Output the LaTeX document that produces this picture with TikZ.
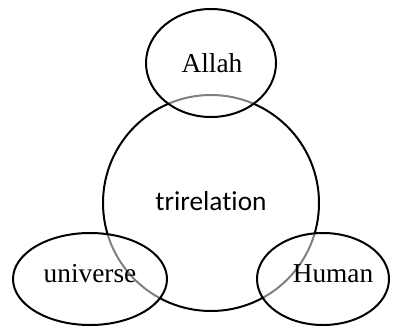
\documentclass[tikz,border=0pt]{standalone}
\usepackage{fontspec}
\setmainfont{Liberation Serif}
\newfontfamily\calfont[Ligatures=NoCommon]{Carlito}
\usetikzlibrary{shapes.geometric}
\begin{document}
\begin{tikzpicture}[x=0.75pt,y=-0.75pt,
  ring/.style={draw=black,line width=1.5pt,ellipse,inner sep=0pt},
  small/.style={ring,fill=white,fill opacity=0.5,draw opacity=1},
  serif/.style={font=\fontsize{20.5}{24}\selectfont,anchor=base,inner sep=0pt},
  sans/.style={font=\calfont\fontsize{20.5}{24}\selectfont,anchor=base,inner sep=0pt}]
\useasboundingbox (0,0) rectangle (399,326);
\node[ring,minimum width=216*0.75pt,minimum height=216*0.75pt] (big) at (211,203) {};
\node[small,minimum width=130*0.75pt,minimum height=108*0.75pt] (allah) at (211,63) {};
\node[small,minimum width=154*0.75pt,minimum height=92*0.75pt] (univ) at (90,279) {};
\node[small,minimum width=132*0.75pt,minimum height=92*0.75pt] (human) at (323,279) {};
\node[sans] (tri) at (211,210) {trirelation};
\node[serif] (tallah) at (212,72) {Allah};
\node[serif] (tuniv) at (90,282) {universe};
\node[serif] (thuman) at (333,282) {Human};
\end{tikzpicture}
\end{document}
